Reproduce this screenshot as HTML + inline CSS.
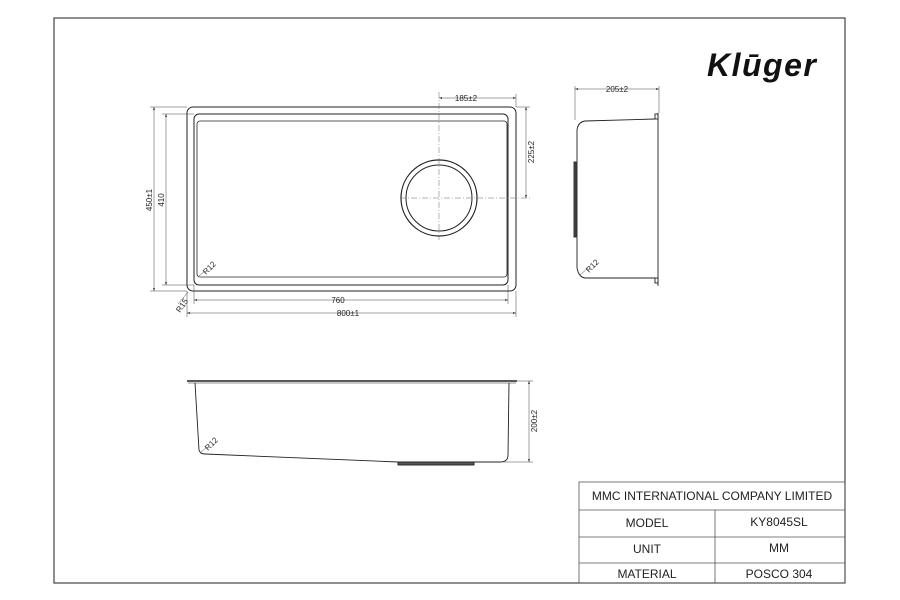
<!DOCTYPE html>
<html><head><style>
body{margin:0;background:#fff;}
svg{display:block;font-family:"Liberation Sans",Arial,sans-serif;}
</style></head><body>
<svg width="900" height="600" viewBox="0 0 900 600" xmlns="http://www.w3.org/2000/svg">
<defs><marker id="a" markerWidth="6" markerHeight="4" refX="6" refY="2" orient="auto-start-reverse"><path d="M0,0L6,2L0,4z" fill="#333"/></marker></defs>
<rect x="54" y="18" width="791" height="565" fill="none" stroke="#444" stroke-width="1.2"/>
<text x="707" y="76" font-size="32" font-weight="bold" font-style="italic" fill="#111" letter-spacing="1.5">Klūger</text>
<!-- top view -->
<g fill="none" stroke="#222" stroke-width="1">
<rect x="187" y="107" width="329" height="184" rx="6"/>
<rect x="194" y="114" width="314" height="171" rx="5"/>
<rect x="197" y="121" width="310" height="156" rx="3" stroke-width="0.8"/>
<circle cx="439" cy="198" r="38" stroke-width="1.2"/>
<circle cx="439" cy="198" r="33"/>
</g>
<g stroke="#666" stroke-width="0.5" stroke-dasharray="6,2,1,2" fill="none">
<line x1="439" y1="92" x2="439" y2="240"/><line x1="400" y1="198" x2="531" y2="198"/>
</g>
<g stroke="#444" stroke-width="0.5" fill="none">
<line x1="150" y1="107" x2="187" y2="107"/><line x1="150" y1="291" x2="187" y2="291"/>
<line x1="162" y1="114" x2="194" y2="114"/><line x1="162" y1="285" x2="194" y2="285"/>
<line x1="154" y1="107" x2="154" y2="291" marker-start="url(#a)" marker-end="url(#a)"/>
<line x1="166" y1="114" x2="166" y2="285" marker-start="url(#a)" marker-end="url(#a)"/>
<line x1="194" y1="285" x2="194" y2="304"/><line x1="508" y1="285" x2="508" y2="304"/>
<line x1="187" y1="291" x2="187" y2="317"/><line x1="516" y1="291" x2="516" y2="317"/>
<line x1="194" y1="300" x2="508" y2="300" marker-start="url(#a)" marker-end="url(#a)"/>
<line x1="187" y1="313" x2="516" y2="313" marker-start="url(#a)" marker-end="url(#a)"/>
<line x1="516" y1="94" x2="516" y2="107"/>
<line x1="439" y1="98" x2="516" y2="98" marker-start="url(#a)" marker-end="url(#a)"/>
<line x1="516" y1="107" x2="530" y2="107"/>
<line x1="526" y1="107" x2="526" y2="198" marker-start="url(#a)" marker-end="url(#a)"/>
<line x1="178" y1="304" x2="188" y2="292"/>
<line x1="199" y1="276" x2="205" y2="271"/>
</g>
<g font-size="8" fill="#222">
<text x="466" y="101" text-anchor="middle">185±2</text>
<text x="338" y="303" text-anchor="middle">760</text>
<text x="348" y="316" text-anchor="middle">800±1</text>
<text transform="translate(152,200) rotate(-90)" text-anchor="middle">450±1</text>
<text transform="translate(164,200) rotate(-90)" text-anchor="middle">410</text>
<text transform="translate(534,152) rotate(-90)" text-anchor="middle">225±2</text>
<text transform="translate(180,313) rotate(-55)">R15</text>
<text transform="translate(206,275) rotate(-45)">R12</text>
</g>
<!-- side view -->
<g fill="none" stroke="#222" stroke-width="0.9">
<path d="M655,119 L585,121 Q578,122 577,130 L577,268 Q579,278 586,278 L655,278"/>
<line x1="658" y1="113" x2="658" y2="286"/>
<rect x="655" y="114" width="3" height="5"/><rect x="655" y="278" width="3" height="5"/>
<rect x="574" y="162" width="2" height="75" fill="#555"/>
</g>
<g stroke="#444" stroke-width="0.5">
<line x1="575" y1="86" x2="575" y2="120"/><line x1="659" y1="86" x2="659" y2="113"/>
<line x1="575" y1="89" x2="659" y2="89" marker-start="url(#a)" marker-end="url(#a)"/>
<line x1="580" y1="275" x2="588" y2="268"/>
</g>
<text x="617" y="92" font-size="8" text-anchor="middle" fill="#222">205±2</text>
<text transform="translate(589,273) rotate(-45)" font-size="8" fill="#222">R12</text>
<!-- front view -->
<g fill="none" stroke="#222" stroke-width="0.9">
<line x1="187" y1="381" x2="517" y2="381" stroke-width="1.4"/>
<line x1="188" y1="383" x2="516" y2="383" stroke-width="0.5"/>
<path d="M195,383 L199,450 Q200,454 205,454 L398,462 L500,462 Q508,462 508,455 L509,383"/>
<rect x="398" y="462" width="76" height="3" fill="#555"/>
</g>
<g stroke="#444" stroke-width="0.5">
<line x1="517" y1="381" x2="533" y2="381"/><line x1="503" y1="462" x2="533" y2="462"/>
<line x1="529" y1="381" x2="529" y2="462" marker-start="url(#a)" marker-end="url(#a)"/>
<line x1="200" y1="453" x2="207" y2="447"/>
</g>
<text transform="translate(537,421) rotate(-90)" font-size="8" text-anchor="middle" fill="#222">200±2</text>
<text transform="translate(208,451) rotate(-45)" font-size="8" fill="#222">R12</text>
<!-- title block -->
<g fill="none" stroke="#555" stroke-width="0.8">
<rect x="579" y="482" width="266" height="101"/>
<line x1="579" y1="510" x2="845" y2="510"/><line x1="579" y1="537" x2="845" y2="537"/><line x1="579" y1="563" x2="845" y2="563"/>
<line x1="715" y1="510" x2="715" y2="583"/>
</g>
<g font-size="12" fill="#222" text-anchor="middle">
<text x="712" y="500">MMC INTERNATIONAL COMPANY LIMITED</text>
<text x="647" y="527">MODEL</text><text x="779" y="526">KY8045SL</text>
<text x="647" y="553">UNIT</text><text x="779" y="552">MM</text>
<text x="647" y="578">MATERIAL</text><text x="779" y="578">POSCO 304</text>
</g>
</svg>
</body></html>
